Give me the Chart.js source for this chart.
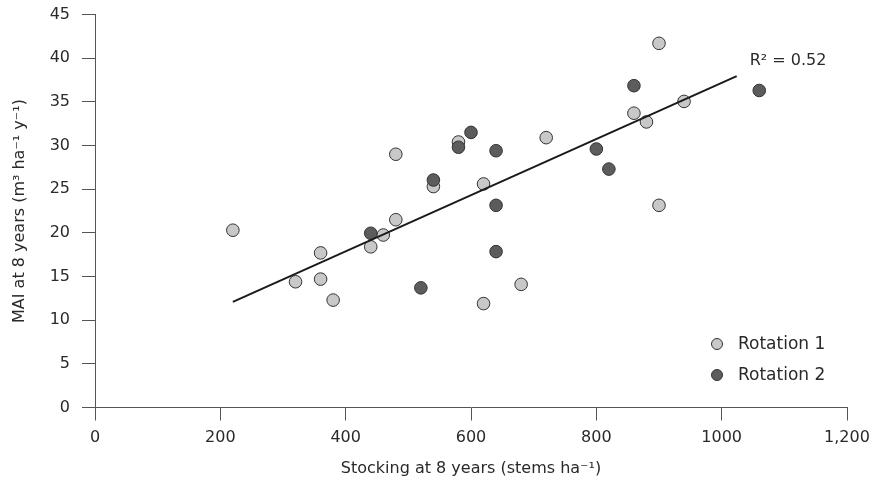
<!DOCTYPE html>
<html><head><meta charset="utf-8">
<script src="https://cdn.jsdelivr.net/npm/chart.js@4/dist/chart.umd.min.js"></script>
<style>html,body{margin:0;padding:0;background:#fff}#wrap{width:873px;height:489px;position:relative}</style>
</head><body><div id="wrap"><canvas id="c" width="873" height="489"></canvas></div>
<script>
// ---- data ----
const seriesNames = ['Rotation 1', 'Rotation 2'];
const rotation1X = [220, 320, 360, 360, 380, 440, 460, 480, 480, 540, 580, 620, 620, 680, 720, 860, 880, 900, 900, 940];
const rotation1Y = [20.3, 14.4, 17.7, 14.7, 12.3, 18.4, 19.75, 21.5, 29.0, 25.3, 30.4, 25.6, 11.9, 14.1, 30.9, 33.7, 32.7, 41.7, 23.15, 35.05];
const rotation2X = [440, 520, 540, 580, 600, 640, 640, 640, 800, 820, 860, 1060];
const rotation2Y = [19.95, 13.7, 26.05, 29.8, 31.5, 29.4, 23.15, 17.85, 29.6, 27.3, 36.85, 36.3];
const trendX = [220, 1024];
const trendY = [12.1, 37.95];
const r2Label = 'R\u00B2 = 0.52';
const xTickLabels = ['0', '200', '400', '600', '800', '1000', '1,200'];
const yTickLabels = ['0', '5', '10', '15', '20', '25', '30', '35', '40', '45'];
const xTitle = 'Stocking at 8 years (stems ha\u207B\u00B9)';
const yTitle = 'MAI at 8 years (m\u00B3 ha\u207B\u00B9 y\u207B\u00B9)';

// ---- styles ----
const FONT = 'DejaVu Sans';
const TXT = '#2a2a2a';
const AXIS = '#555555';
const LIGHT = '#c8c8c8';
const DARK = '#5c5c5c';
const EDGE = '#333333';

const zip = (xs, ys) => xs.map((x, i) => ({x: x, y: ys[i]}));
const noPad = s => { s.paddingTop = 0; s.paddingBottom = 0; s.paddingLeft = 0; s.paddingRight = 0; };

const extras = {
  id: 'extras',
  afterDatasetsDraw(chart) {
    const {ctx, chartArea, scales} = chart;
    const xs = scales.x, ys = scales.y;
    ctx.save();
    ctx.fillStyle = TXT;
    ctx.textBaseline = 'middle';
    ctx.textAlign = 'left';
    // R² label near the end of the trend line
    ctx.font = '16px "' + FONT + '"';
    ctx.fillText(r2Label, xs.getPixelForValue(trendX[1]) + 13, ys.getPixelForValue(trendY[1]) - 15);
    // legend
    ctx.font = '17px "' + FONT + '"';
    const fills = [LIGHT, DARK];
    seriesNames.forEach((name, i) => {
      const cx = chartArea.right - 130;
      const cy = chartArea.bottom - 63.5 + i * 31;
      ctx.beginPath();
      ctx.arc(cx, cy, 5.5, 0, Math.PI * 2);
      ctx.fillStyle = fills[i];
      ctx.fill();
      ctx.lineWidth = 1;
      ctx.strokeStyle = EDGE;
      ctx.stroke();
      ctx.fillStyle = TXT;
      ctx.fillText(name, cx + 21, cy + 1);
    });
    ctx.restore();
  }
};

new Chart(document.getElementById('c'), {
  type: 'scatter',
  data: {
    datasets: [
      {label: seriesNames[0], data: zip(rotation1X, rotation1Y), order: 2,
       pointRadius: 6.3, pointHoverRadius: 6.3, backgroundColor: LIGHT, borderColor: EDGE, borderWidth: 1},
      {label: seriesNames[1], data: zip(rotation2X, rotation2Y), order: 1,
       pointRadius: 6.3, pointHoverRadius: 6.3, backgroundColor: DARK, borderColor: EDGE, borderWidth: 1},
      {type: 'line', label: 'Trend', data: zip(trendX, trendY), order: 0,
       showLine: true, pointRadius: 0, borderColor: '#1a1a1a', borderWidth: 2, fill: false}
    ]
  },
  options: {
    responsive: false,
    animation: false,
    devicePixelRatio: 1,
    layout: {padding: {top: 14.5, right: 26, left: 0, bottom: 0}},
    plugins: {legend: {display: false}, tooltip: {enabled: false}},
    scales: {
      x: {
        type: 'linear', min: 0, max: 1200,
        afterFit: s => { s.height = 81.5; noPad(s); },
        grid: {display: true, drawOnChartArea: false, drawTicks: true, tickLength: 13, tickColor: AXIS, tickWidth: 1},
        border: {display: true, color: AXIS, width: 1},
        ticks: {stepSize: 200, padding: 8, color: TXT, font: {family: FONT, size: 16},
                maxRotation: 0, autoSkip: false,
                callback: (v, i) => xTickLabels[i]},
        title: {display: true, text: xTitle, color: TXT, font: {family: FONT, size: 16}, padding: {top: 0, bottom: 11}}
      },
      y: {
        type: 'linear', min: 0, max: 45,
        afterFit: s => { s.width = 95; noPad(s); },
        grid: {display: true, drawOnChartArea: false, drawTicks: true, tickLength: 13, tickColor: AXIS, tickWidth: 1},
        border: {display: true, color: AXIS, width: 1},
        ticks: {stepSize: 5, padding: 12, color: TXT, font: {family: FONT, size: 16},
                callback: (v, i) => yTickLabels[i]},
        title: {display: true, text: yTitle, color: TXT, font: {family: FONT, size: 16}, padding: {top: 10, bottom: 0}}
      }
    }
  },
  plugins: [extras]
});
</script>
</body></html>
